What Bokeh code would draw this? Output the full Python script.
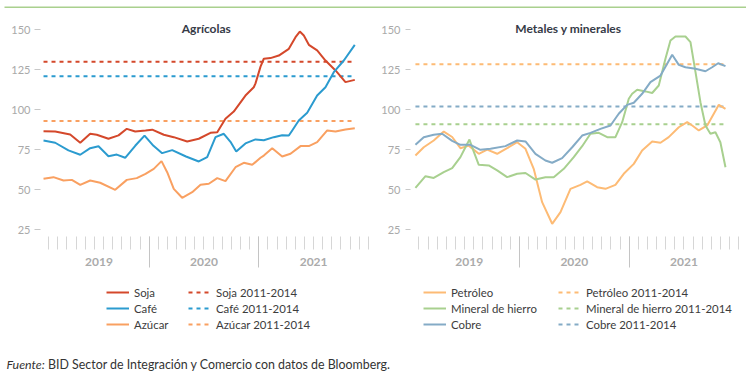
from bokeh.plotting import figure
from bokeh.models import FixedTicker, Label, Legend, LegendItem, Range1d, LinearAxis
from bokeh.layouts import column, row
from bokeh.embed import file_html
from bokeh.resources import INLINE

# x values: months elapsed since 1 January 2019
soja_x = [0.43, 1.71, 3.35, 4.45, 5.54, 6.26, 7.54, 8.64, 9.55, 10.47, 11.6, 12.33, 13.6, 14.69, 16.16,
          17.43, 18.71, 19.45, 20.35, 21.26, 22.54, 23.45, 23.64, 24.19, 24.55, 25.28, 26.19, 27.29,
          28.02, 28.49, 28.93, 29.48, 30.39, 31.3, 32.4, 33.49, 34.51]
soja_y = [86.6, 86.4, 84.6, 79.4, 85, 84.4, 81.9, 84, 88.1, 86.4, 87.1, 87.6, 84.4, 82.9, 80.2,
          81.9, 85.6, 86, 94.4, 98.9, 108.9, 114.1, 116.5, 127, 131.9, 132.3, 133.9, 138.1,
          145.4, 148.9, 146.4, 140.6, 137.1, 130.8, 124.6, 117.3, 118.7]

cafe_x = [0.43, 1.71, 3.16, 4.45, 5.54, 6.45, 7.54, 8.45, 9.37, 10.47, 11.49, 12.47, 13.42, 14.52,
          16.03, 17.43, 18.35, 19.26, 20.17, 20.9, 21.53, 22.54, 23.64, 24.55, 25.64, 26.56, 27.29,
          27.66, 28.38, 29.3, 30.39, 31.3, 32.21, 33.31, 34.51]
cafe_y = [80.8, 79.4, 74.6, 71.9, 76, 77.2, 71, 72, 70, 77.5, 83.9, 77.5, 72.9, 74.8,
          70.8, 67.7, 70.4, 82.9, 85, 80, 73.9, 79, 81.5, 81, 82.9, 84.1, 83.9,
          87.1, 93.3, 98.1, 108.9, 114.1, 123.5, 130.8, 140.6]

azucar_x = [0.43, 1.52, 2.62, 3.53, 4.45, 5.54, 6.63, 8.28, 9.55, 10.64, 11.6, 12.5, 13.35, 13.97,
            14.69, 15.61, 16.71, 17.62, 18.53, 19.45, 20.35, 21.45, 22.36, 23.28, 24.19, 24.55,
            25.47, 26.56, 27.47, 28.57, 29.48, 30.39, 31.49, 32.4, 33.49, 34.51]
azucar_y = [56.9, 57.9, 55.8, 56.2, 53.1, 55.8, 54.4, 50, 56.2, 57.3, 60, 63.1, 67.9, 61,
            50.6, 45, 48.5, 53.1, 53.8, 57.3, 55.4, 64.1, 66.9, 65.6, 70, 71.4,
            76, 70.8, 72.5, 77.3, 77.3, 79.75, 87.1, 86.5, 87.7, 88.5]

petroleo_x = [0.62, 1.53, 2.62, 3.72, 4.64, 5.54, 6.45, 7.55, 8.47, 9.56, 10.65, 11.75, 12.66, 13.56,
              14.48, 15.58, 16.49, 17.58, 18.67, 19.41, 20.5, 21.41, 22.5, 23.41, 24.51, 25.42,
              26.52, 27.43, 28.33, 29.43, 30.35, 30.9, 31.62, 32.54, 33.26, 33.81, 34.54]
petroleo_y = [71.4, 76.6, 80.8, 86.4, 83, 76, 77.6, 72.5, 75.1, 72.5, 76, 79.75, 75.6, 63.1,
              42.25, 28.75, 36, 50.6, 53.1, 55.2, 51.6, 50.6, 53.1, 60, 66.2, 74.6,
              80.2, 79.4, 82.9, 89.1, 92.25, 90.2, 87.1, 90.2, 97.5, 103.1, 100.6]

hierro_x = [0.62, 1.72, 2.62, 3.72, 4.64, 5.54, 6.09, 6.53, 7.0, 7.55, 8.64, 9.56, 10.65, 11.75,
            12.66, 13.75, 14.84, 15.75, 16.85, 17.94, 18.86, 19.77, 20.68, 21.6, 22.5, 23.24,
            23.96, 24.33, 24.88, 25.79, 26.52, 27.24, 27.97, 28.52, 29.07, 30.16, 30.71, 31.26,
            31.8, 32.35, 32.89, 33.44, 33.98, 34.54]
hierro_y = [51.25, 58.5, 57.4, 61, 63.5, 70.4, 76.6, 81.4, 73.8, 65.6, 65.2, 62.1, 57.9, 60,
            60.5, 56.4, 57.9, 57.9, 63.1, 70.4, 77.25, 85, 85.6, 82.9, 82.9, 92.25,
            106.9, 110, 112.5, 111.5, 110.5, 115.2, 131.9, 143.3, 145.8, 145.8, 142.3, 123.5,
            104.75, 90.2, 85, 86, 79.75, 64.1]

cobre_x = [0.62, 1.53, 2.62, 3.54, 4.64, 5.54, 6.64, 7.73, 8.83, 10.47, 11.75, 12.66, 13.75, 14.84,
           15.58, 16.67, 17.77, 18.86, 19.77, 20.86, 21.96, 22.86, 23.78, 24.51, 25.42, 26.33,
           27.43, 28.16, 28.71, 29.43, 30.16, 31.26, 32.35, 33.08, 33.74, 34.54]
cobre_y = [78.1, 82.9, 84.4, 85, 80.6, 78.1, 78.1, 75, 75.6, 77.3, 80.8, 80.2, 72.5, 68.3,
           66.9, 69.8, 76.6, 83.9, 85.6, 88.1, 90.2, 97.5, 103.1, 104.4, 110, 117.3,
           121.4, 128.75, 134.4, 128.1, 126.6, 125.6, 124.1, 126.6, 129.1, 127.3]

# 2011-2014 averages
ref_soja, ref_cafe, ref_azucar = 130, 121, 93
ref_petroleo, ref_hierro, ref_cobre = 128.5, 91, 102

y_ticks = [25, 50, 75, 100, 125, 150]
year_starts = [12, 24]
month_ticks = list(range(1, 37))
year_labels = ["2019", "2020", "2021"]
year_label_pos = [6.5, 18, 30]

FONT = "Lato"
PX = 1.6                         # pixels per index point
Y0, Y1 = 20.81, 155.81           # visible band of the chart (values)
Y_LOW = Y0 - 36 / PX             # frame reaches down to hold the date axis
TICK_BASE = Y0 - 31 / PX         # lower end of the long year ticks


def panel(title, series, x_range, border_left, title_x, legend_x, label_width, tick_out, standoff):
    p = figure(width=373, height=272, output_backend="svg", toolbar_location=None,
               x_range=x_range, y_range=Range1d(Y_LOW, Y1),
               min_border_left=border_left, min_border_right=2, min_border_top=12,
               min_border_bottom=8, outline_line_color=None,
               background_fill_color="white", border_fill_color="white")
    p.xgrid.visible = False
    p.ygrid.visible = False

    # month ticks + year labels, hanging from the bottom of the value band
    xa = p.xaxis[0]
    xa.fixed_location = Y0
    xa.ticker = FixedTicker(ticks=year_label_pos, minor_ticks=month_ticks)
    xa.major_label_overrides = {pos: lab for pos, lab in zip(year_label_pos, year_labels)}
    xa.axis_line_color = None
    xa.major_tick_in = 0
    xa.major_tick_out = 0
    xa.major_tick_line_color = None
    xa.minor_tick_in = 0
    xa.minor_tick_out = 13
    xa.minor_tick_line_color = "#d6d6d6"
    xa.major_label_standoff = 8
    xa.major_label_text_font = FONT
    xa.major_label_text_font_style = "bold"
    xa.major_label_text_font_size = "12px"
    xa.major_label_text_color = "#ababab"

    # long ticks at the start of each year
    xb = LinearAxis(ticker=FixedTicker(ticks=year_starts, minor_ticks=[]),
                    fixed_location=TICK_BASE, axis_line_color=None,
                    major_tick_in=31, major_tick_out=0, major_tick_line_color="#c4c4c4",
                    minor_tick_line_color=None, major_label_text_font_size="0px",
                    major_label_text_color=None, major_label_standoff=0)
    p.add_layout(xb, "below")

    ya = p.yaxis[0]
    ya.ticker = FixedTicker(ticks=y_ticks)
    ya.axis_line_color = None
    ya.major_tick_in = 0
    ya.major_tick_out = tick_out
    ya.minor_tick_line_color = None
    ya.major_tick_line_color = "#c8c8c8"
    ya.major_label_standoff = standoff
    ya.major_label_text_font = FONT
    ya.major_label_text_font_size = "11px"
    ya.major_label_text_color = "#a9a9a9"

    p.add_layout(Label(x=title_x, y=244, x_units="screen", y_units="screen", text=title,
                       text_align="center", text_baseline="middle", text_font=FONT,
                       text_font_style="bold", text_font_size="12px", text_color="#363b47"))

    # legend lives in its own small figure below the chart
    lg = figure(width=373, height=60, output_backend="svg", toolbar_location=None,
                x_axis_type=None, y_axis_type=None, x_range=x_range, y_range=Range1d(Y0, Y1),
                min_border_top=0, min_border_bottom=0, min_border_left=0, min_border_right=0,
                outline_line_color=None, background_fill_color="white", border_fill_color="white")
    lg.grid.visible = False

    solid_items, ref_items = [], []
    refs = []
    for name, xs, ys, ref, color in series:
        kw = dict(line_color=color, line_width=2, line_dash="4 4")
        p.line([xs[0], xs[-1]], [ref, ref], **kw)
        r = lg.line([xs[0], xs[-1]], [ref, ref], visible=False, **kw)
        refs.append((name, r))
    for name, xs, ys, ref, color in series:
        kw = dict(line_color=color, line_width=2)
        p.line(xs, ys, **kw)
        r = lg.line(xs, ys, visible=False, **kw)
        solid_items.append(LegendItem(label=name, renderers=[r]))
    for name, r in refs:
        ref_items.append(LegendItem(label=name + " 2011-2014", renderers=[r]))

    legend = Legend(items=solid_items + ref_items, location=(legend_x, 8),
                    orientation="vertical", nrows=3,
                    border_line_color=None, background_fill_alpha=0,
                    inactive_fill_alpha=0,
                    padding=0, margin=0, spacing=0,
                    label_height=16, glyph_height=16, glyph_width=23,
                    label_standoff=5, label_width=label_width,
                    label_text_font=FONT, label_text_font_size="11.4px",
                    label_text_color="#3c3c3c")
    lg.add_layout(legend)
    return column(p, lg)


left = panel("Agrícolas",
             [("Soja", soja_x, soja_y, ref_soja, "#d4482b"),
              ("Café", cafe_x, cafe_y, ref_cafe, "#2b9bcf"),
              ("Azúcar", azucar_x, azucar_y, ref_azucar, "#f9a061")],
             Range1d(0.1, 36.34), 40, 165.8, 66, 54, 6, 4)

right = panel("Metales y minerales",
              [("Petróleo", petroleo_x, petroleo_y, ref_petroleo, "#fdbb75"),
               ("Mineral de hierro", hierro_x, hierro_y, ref_hierro, "#a8d08f"),
               ("Cobre", cobre_x, cobre_y, ref_cobre, "#84abc6")],
              Range1d(0.08, 36.62), 37, 158, 13, 107, 5, 5)


def band(height, top, bottom, color):
    b = figure(width=746, height=height, output_backend="svg", toolbar_location=None,
               x_axis_type=None, y_axis_type=None,
               min_border_top=top, min_border_bottom=bottom, min_border_left=4, min_border_right=0,
               background_fill_color=color, border_fill_color="white",
               outline_line_color=None)
    b.grid.visible = False
    return b


top_bar = band(8, 2, 3, "#a9d08e")
sep_bar = band(8, 4, 1, "#d9ebcd")

footer = figure(width=746, height=28, output_backend="svg", toolbar_location=None,
                x_axis_type=None, y_axis_type=None,
                min_border_top=0, min_border_bottom=0, min_border_left=0, min_border_right=0,
                background_fill_color="white", border_fill_color="white",
                outline_line_color=None)
footer.grid.visible = False
footer.add_layout(Label(x=2, y=12, x_units="screen", y_units="screen", text="Fuente:",
                        text_font=FONT, text_font_style="italic", text_font_size="12.4px",
                        text_color="#333333", text_baseline="alphabetic"))
footer.add_layout(Label(x=43.5, y=12, x_units="screen", y_units="screen",
                        text="BID Sector de Integración y Comercio con datos de Bloomberg.",
                        text_font=FONT, text_font_size="12.4px",
                        text_color="#333333", text_baseline="alphabetic"))

layout = column(top_bar, row(left, right), sep_bar, footer)
open("out.html", "w").write(file_html(layout, INLINE))
